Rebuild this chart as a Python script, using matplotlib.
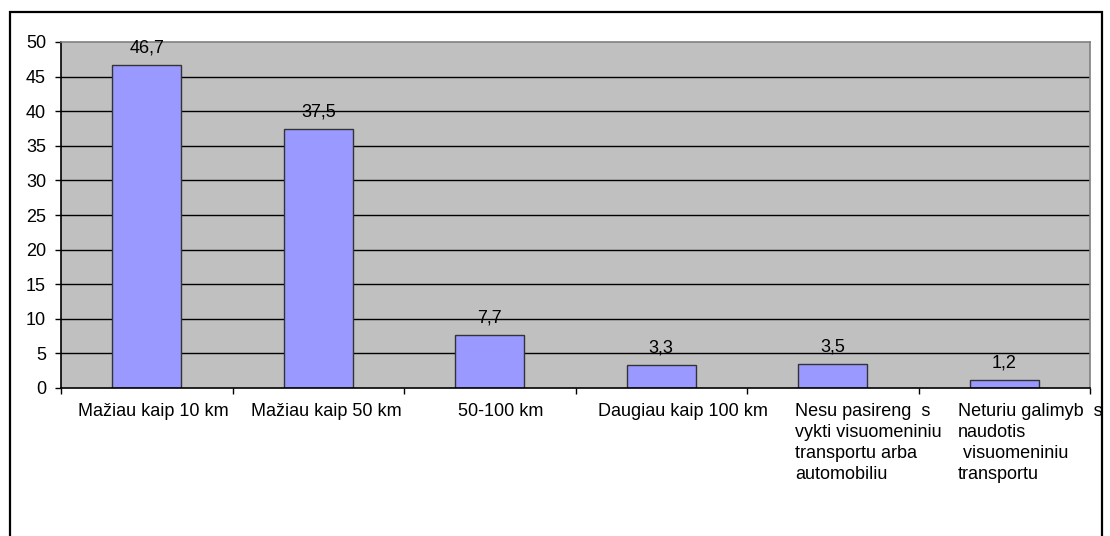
import matplotlib as mpl
mpl.use("Agg")
import matplotlib.pyplot as plt
import matplotlib.patches as patches
import numpy as np

plt.rcParams['font.family'] = ['Liberation Sans', 'DejaVu Sans']

categories = [
    "Mažiau kaip 10 km",
    "Mažiau kaip 50 km",
    "50-100 km",
    "Daugiau kaip 100 km",
    "Nesu pasireng  s\nvykti visuomeniniu\ntransportu arba\nautomobiliu",
    "Neturiu galimyb  s\nnaudotis\n visuomeniniu\ntransportu",
]
values = [46.7, 37.5, 7.7, 3.3, 3.5, 1.2]
value_labels = ["46,7", "37,5", "7,7", "3,3", "3,5", "1,2"]
yticks = [0, 5, 10, 15, 20, 25, 30, 35, 40, 45, 50]

# where each category label starts, as a fraction of the category slot
label_left = [0.10, 0.108, 0.316, 0.131, 0.28, 0.23]

W, H = 1110, 536
fs = 13
fig = plt.figure(figsize=(W / 100, H / 100), dpi=100)
ax = fig.add_axes([61 / W, 1 - 388 / H, (1090 - 61) / W, (388 - 42) / H])

# outer chart border
fig.patches.append(patches.Rectangle((10 / W, -0.05), (1102 - 10) / W, 1.05 - 12 / H,
                                     transform=fig.transFigure, fill=False,
                                     edgecolor='black', linewidth=1.6))

x = np.arange(len(values))
ax.set_facecolor('#C0C0C0')
for y in yticks[1:-1]:
    ax.axhline(y, color='black', linewidth=1.0, zorder=1)
ax.bar(x, values, width=0.405, color='#9999FF', edgecolor='#333333', linewidth=1.0, zorder=2)

for xi, v, lab in zip(x, values, value_labels):
    ax.annotate(lab, (xi, v), xytext=(0, 6), textcoords='offset points',
                ha='center', va='bottom', fontsize=fs)

ax.set_xlim(-0.5, len(values) - 0.5)
ax.set_ylim(0, 50)
ax.set_yticks(yticks)
ax.set_yticklabels([str(t) for t in yticks], fontsize=fs)
ax.set_xticks(np.arange(len(values) + 1) - 0.5)
ax.set_xticklabels([])
ax.tick_params(axis='x', direction='out', length=4, width=1, color='black')
ax.tick_params(axis='y', direction='out', length=4.3, width=1, color='black', pad=6.5)

for s in ax.spines.values():
    s.set_color('#808080')
    s.set_linewidth(1.2)
ax.spines['bottom'].set_color('black')
ax.spines['left'].set_color('black')

for i, lab in enumerate(categories):
    ax.text(i - 0.5 + label_left[i], -2.2, lab, ha='left', va='top',
            fontsize=fs, linespacing=1.3)

plt.savefig("out.png", dpi=100)
